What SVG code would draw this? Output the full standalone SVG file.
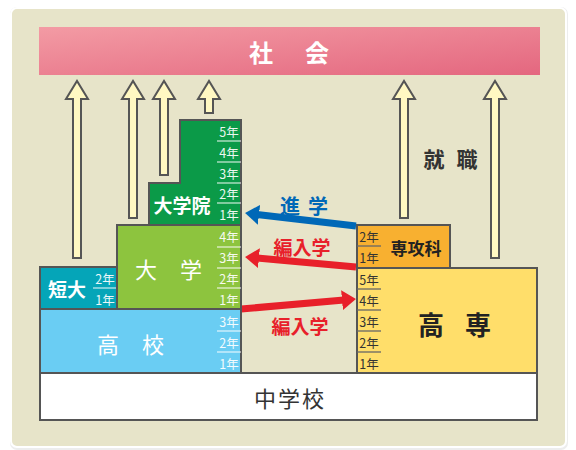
<svg xmlns="http://www.w3.org/2000/svg" width="576" height="450" viewBox="0 0 576 450">
  <defs>
    <linearGradient id="pink" x1="0" y1="0" x2="1" y2="1">
      <stop offset="0" stop-color="#F39BA4"/>
      <stop offset="1" stop-color="#E4677F"/>
    </linearGradient>
    <marker id="hb" markerUnits="userSpaceOnUse" markerWidth="14" markerHeight="20" refX="2" refY="10" orient="auto" viewBox="0 0 14 20">
      <path d="M0,0 L14,10 L0,20 z" fill="#0068B7"/>
    </marker>
    <marker id="hr" markerUnits="userSpaceOnUse" markerWidth="14" markerHeight="20" refX="2" refY="10" orient="auto" viewBox="0 0 14 20">
      <path d="M0,0 L14,10 L0,20 z" fill="#E8202A"/>
    </marker>
  </defs>
  <style>
    text { font-family: "Noto Sans CJK JP", "Noto Sans", sans-serif; text-anchor: middle; dominant-baseline: central; }
    .blk { stroke: #555; stroke-width: 2; }
    .up { fill: #FFF8C2; stroke: #555; stroke-width: 2; stroke-linejoin: miter; }
    .yw { fill: #FFFFFF; font-size: 12.5px; opacity: 0.92; }
    .yd { fill: #333; font-size: 12.5px; }
    .sepw { stroke: #FFFFFF; stroke-opacity: 0.75; stroke-width: 1.3; }
    .sepd { stroke: #666; stroke-width: 1.3; }
    .big { fill: #FFFFFF; font-weight: bold; }
  </style>
  <rect x="0" y="0" width="576" height="450" fill="#FFFFFF"/>
  <rect x="10" y="7" width="558" height="443" rx="7" fill="#EDEDED"/>
  <rect x="11" y="8" width="555" height="439" rx="6" fill="#E7E4C9" stroke="#FFFFFF" stroke-width="2"/>

  <g id="society">
    <rect x="39" y="27" width="501" height="48" fill="url(#pink)"/>
    <text x="261 317" y="51" font-size="24" class="big">社会</text>
  </g>

  <g id="connectors">
    <polygon class="up" points="73,258 73,99 66,99 77,81 88,99 81,99 81,258"/>
    <polygon class="up" points="129,218 129,99 122,99 133,81 144,99 137,99 137,218"/>
    <polygon class="up" points="160,175 160,99 153,99 164,81 175,99 168,99 168,175"/>
    <polygon class="up" points="205,113 205,99 198,99 209,81 220,99 213,99 213,113"/>
    <polygon class="up" points="400,218 400,99 393,99 404,81 415,99 408,99 408,218"/>
    <polygon class="up" points="491,258 491,99 484,99 495,81 506,99 499,99 499,258"/>
    <line x1="356" y1="226" x2="257" y2="214.5" stroke="#0068B7" stroke-width="7" marker-end="url(#hb)"/>
    <line x1="356" y1="267" x2="257" y2="258" stroke="#E8202A" stroke-width="7" marker-end="url(#hr)"/>
    <line x1="241" y1="309" x2="344" y2="300" stroke="#E8202A" stroke-width="7" marker-end="url(#hr)"/>
    <text x="434 467" y="158" font-size="21" font-weight="bold" fill="#333">就職</text>
    <text x="290 318" y="205" font-size="20" font-weight="bold" fill="#0068B7">進学</text>
    <text x="302" y="246" font-size="19" font-weight="bold" fill="#E8202A">編入学</text>
    <text x="300" y="325" font-size="19" font-weight="bold" fill="#E8202A">編入学</text>
  </g>

  <g id="junior-high">
    <rect class="blk" x="40" y="373" width="497" height="47" fill="#FFFFFF"/>
    <text x="290" y="397" font-size="22" fill="#333" letter-spacing="2">中学校</text>
  </g>

  <g id="high-school">
    <rect class="blk" x="40" y="309" width="201" height="64" fill="#6ACDF3"/>
    <text x="108 153" y="343" font-size="22" fill="#FFFFFF">高校</text>
    <line class="sepw" x1="217" y1="331" x2="241" y2="331"/>
    <line class="sepw" x1="217" y1="352" x2="241" y2="352"/>
    <text class="yw" x="229" y="321">3年</text>
    <text class="yw" x="229" y="342">2年</text>
    <text class="yw" x="229" y="363">1年</text>
  </g>

  <g id="junior-college">
    <rect class="blk" x="40" y="267" width="77" height="42" fill="#05A5B8"/>
    <text x="67" y="288" font-size="19" class="big">短大</text>
    <line class="sepw" x1="93" y1="288" x2="117" y2="288"/>
    <text class="yw" x="105" y="278">2年</text>
    <text class="yw" x="105" y="299">1年</text>
  </g>

  <g id="university">
    <rect class="blk" x="117" y="225" width="124" height="84" fill="#8DC43E"/>
    <text x="146 191" y="268" font-size="22" fill="#FFFFFF">大学</text>
    <line class="sepw" x1="217" y1="247" x2="241" y2="247"/>
    <line class="sepw" x1="217" y1="268" x2="241" y2="268"/>
    <line class="sepw" x1="217" y1="288" x2="241" y2="288"/>
    <text class="yw" x="229" y="236">4年</text>
    <text class="yw" x="229" y="257">3年</text>
    <text class="yw" x="229" y="278">2年</text>
    <text class="yw" x="229" y="299">1年</text>
  </g>

  <g id="graduate-school">
    <polygon class="blk" points="180,120 241,120 241,225 149,225 149,183 180,183" fill="#0B9A48"/>
    <text x="182" y="204" font-size="19" class="big">大学院</text>
    <line class="sepw" x1="217" y1="141" x2="241" y2="141"/>
    <line class="sepw" x1="217" y1="162" x2="241" y2="162"/>
    <line class="sepw" x1="217" y1="183" x2="241" y2="183"/>
    <line class="sepw" x1="217" y1="203" x2="241" y2="203"/>
    <text class="yw" x="229" y="131">5年</text>
    <text class="yw" x="229" y="152">4年</text>
    <text class="yw" x="229" y="173">3年</text>
    <text class="yw" x="229" y="193">2年</text>
    <text class="yw" x="229" y="214">1年</text>
  </g>

  <g id="kosen">
    <rect class="blk" x="357" y="268" width="180" height="105" fill="#FFDE6A"/>
    <text x="431 478" y="323" font-size="26" font-weight="bold" fill="#222">高専</text>
    <line class="sepd" x1="357" y1="289" x2="381" y2="289"/>
    <line class="sepd" x1="357" y1="310" x2="381" y2="310"/>
    <line class="sepd" x1="357" y1="331" x2="381" y2="331"/>
    <line class="sepd" x1="357" y1="352" x2="381" y2="352"/>
    <text class="yd" x="369" y="279">5年</text>
    <text class="yd" x="369" y="300">4年</text>
    <text class="yd" x="369" y="321">3年</text>
    <text class="yd" x="369" y="342">2年</text>
    <text class="yd" x="369" y="363">1年</text>
  </g>

  <g id="advanced-course">
    <rect class="blk" x="357" y="225" width="93" height="43" fill="#F8B030"/>
    <text x="416" y="247" font-size="17" font-weight="bold" fill="#222">専攻科</text>
    <line class="sepd" x1="357" y1="246" x2="381" y2="246"/>
    <text class="yd" x="369" y="236">2年</text>
    <text class="yd" x="369" y="257">1年</text>
  </g>
</svg>
